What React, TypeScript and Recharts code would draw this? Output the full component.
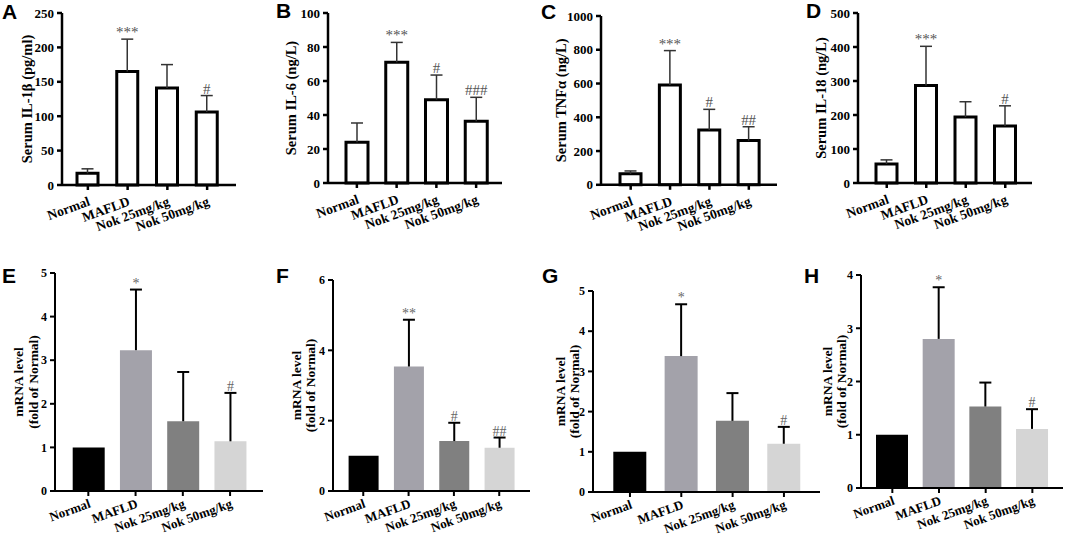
import { BarChart, Bar, XAxis, YAxis, Cell, LabelList } from "recharts";

const groups = ["Normal", "MAFLD", "Nok 25mg/kg", "Nok 50mg/kg"];
const mrnaFills = ["#000000", "#a3a2aa", "#808080", "#d5d5d5"];

// serum cytokines: bar mean, top of the error bar, significance mark
const il1bMean = [17, 165, 141, 106];
const il1bTop = [23.5, 212, 175, 130];
const il1bSig = ["", "***", "", "#"];
const il1bTicks = [0, 50, 100, 150, 200, 250];

const il6Mean = [24, 71, 49, 36.3];
const il6Top = [35.3, 82.7, 63.5, 50.4];
const il6Sig = ["", "***", "#", "###"];
const il6Ticks = [0, 20, 40, 60, 80, 100];

const tnfMean = [65, 591, 325, 262];
const tnfTop = [82, 795, 447, 344];
const tnfSig = ["", "***", "#", "##"];
const tnfTicks = [0, 200, 400, 600, 800, 1000];

const il18Mean = [56, 287, 194, 168];
const il18Top = [68, 402, 239, 227];
const il18Sig = ["", "***", "", "#"];
const il18Ticks = [0, 100, 200, 300, 400, 500];

// mRNA, fold of Normal
const eMean = [1, 3.23, 1.6, 1.14];
const eTop = [1, 4.62, 2.73, 2.25];
const eSig = ["", "*", "", "#"];
const eTicks = [0, 1, 2, 3, 4, 5];

const fMean = [1, 3.54, 1.42, 1.23];
const fTop = [1, 4.87, 1.94, 1.52];
const fSig = ["", "**", "#", "##"];
const fTicks = [0, 2, 4, 6];

const gMean = [1, 3.38, 1.77, 1.2];
const gTop = [1, 4.67, 2.46, 1.62];
const gSig = ["", "*", "", "#"];
const gTicks = [0, 1, 2, 3, 4, 5];

const hMean = [1, 2.8, 1.53, 1.11];
const hTop = [1, 3.77, 1.98, 1.48];
const hSig = ["", "*", "", "#"];
const hTicks = [0, 1, 2, 3, 4];

const serif = "'Liberation Serif', 'Times New Roman', serif";

type Spec = {
  letter: string;
  mean: number[];
  top: number[];
  sig: string[];
  ticks: number[];
  title: string[];
  gaps: number[];
  mrna: boolean;
  axisX: number;
  plotTop: number;
  plotBottom: number;
  right: number;
  padL: number;
  padR: number;
  barSize: number;
};

const panels: Spec[] = [
  { letter: "A", mean: il1bMean, top: il1bTop, sig: il1bSig, ticks: il1bTicks, title: ["Serum IL-1β (pg/ml)"], gaps: [35], mrna: false, axisX: 62, plotTop: 13, plotBottom: 185, right: 236, padL: 6, padR: 9, barSize: 21 },
  { letter: "B", mean: il6Mean, top: il6Top, sig: il6Sig, ticks: il6Ticks, title: ["Serum IL-6 (ng/L)"], gaps: [37], mrna: false, axisX: 328, plotTop: 13.3, plotBottom: 183.3, right: 502, padL: 9, padR: 6, barSize: 22 },
  { letter: "C", mean: tnfMean, top: tnfTop, sig: tnfSig, ticks: tnfTicks, title: ["Serum TNFα (ng/L)"], gaps: [40], mrna: false, axisX: 601, plotTop: 15.7, plotBottom: 184.5, right: 777, padL: 10, padR: 8.5, barSize: 21 },
  { letter: "D", mean: il18Mean, top: il18Top, sig: il18Sig, ticks: il18Ticks, title: ["Serum IL-18 (ng/L)"], gaps: [37], mrna: false, axisX: 858, plotTop: 13.3, plotBottom: 183.3, right: 1032, padL: 9, padR: 7, barSize: 21 },
  { letter: "E", mean: eMean, top: eTop, sig: eSig, ticks: eTicks, title: ["mRNA level", "(fold of Normal)"], gaps: [37, 22], mrna: true, axisX: 55, plotTop: 273, plotBottom: 491, right: 263, padL: 9.7, padR: 9.3, barSize: 32 },
  { letter: "F", mean: fMean, top: fTop, sig: fSig, ticks: fTicks, title: ["mRNA level", "(fold of Normal)"], gaps: [37, 23], mrna: true, axisX: 333, plotTop: 280, plotBottom: 491, right: 530, padL: 7.6, padR: 8.1, barSize: 30 },
  { letter: "G", mean: gMean, top: gTop, sig: gSig, ticks: gTicks, title: ["mRNA level", "(fold of Normal)"], gaps: [33, 19], mrna: true, axisX: 593, plotTop: 291, plotBottom: 492, right: 820, padL: 11.3, padR: 10.4, barSize: 33 },
  { letter: "H", mean: hMean, top: hTop, sig: hSig, ticks: hTicks, title: ["mRNA level", "(fold of Normal)"], gaps: [34, 20], mrna: true, axisX: 861, plotTop: 275, plotBottom: 488, right: 1063, padL: 8, padR: 7.3, barSize: 32 },
];

const letterPos = [
  [2, 19], [276, 18], [541, 19], [806, 18],
  [2, 283], [276, 283], [542, 283], [804, 283],
];

function buildRows(mean: number[], top: number[], sig: string[]) {
  return groups.map((g, i) => ({ group: g, mean: mean[i], spread: top[i] - mean[i], sig: sig[i] }));
}

const GroupTick = (props: any) => {
  const { x, y, payload, dy, size } = props;
  const tx = x + 3;
  const ty = y + dy;
  return (
    <text x={tx} y={ty} transform={`rotate(-20 ${tx} ${ty})`} textAnchor="end" fill="#000" fontFamily={serif} fontWeight={700} fontSize={size}>
      {payload.value}
    </text>
  );
};

const AxisTitle = (props: any) => {
  const { viewBox, lines, gaps, size } = props;
  if (!viewBox) return null;
  const ax = viewBox.x + viewBox.width;
  const cy = viewBox.y + viewBox.height / 2;
  return (
    <g>
      {lines.map((t: string, i: number) => {
        const cx = ax - gaps[i];
        return (
          <text key={t} x={cx} y={cy} transform={`rotate(-90 ${cx} ${cy})`} textAnchor="middle" dominantBaseline="central" fill="#000" fontFamily={serif} fontWeight={700} fontSize={size}>
            {t}
          </text>
        );
      })}
    </g>
  );
};

const Whisker = (props: any) => {
  const { x, y, width, height, color, sw } = props;
  if (!height || height < 0.5) return <g />;
  const cx = x + width / 2;
  return (
    <g stroke={color} strokeWidth={sw}>
      <line x1={cx} y1={y + height} x2={cx} y2={y} />
      <line x1={cx - 6} y1={y} x2={cx + 6} y2={y} />
    </g>
  );
};

const SigMark = (props: any) => {
  const vb = props.viewBox ?? props;
  const { value, size, color } = props;
  if (!value || vb.x == null) return null;
  return (
    <text x={vb.x + vb.width / 2} y={vb.y - 2} textAnchor="middle" fill={color} fontFamily={serif} fontSize={size}>
      {value}
    </text>
  );
};

function Panel({ p }: { p: Spec }) {
  const rows = buildRows(p.mean, p.top, p.sig);
  const padTop = 14;
  const yw = 60;
  const xh = 70;
  const mr = 4;
  const width = p.right - p.axisX + yw + mr;
  const height = p.plotBottom - p.plotTop + padTop + xh;
  const axisW = p.mrna ? 2 : 2.5;
  const axisStyle = { stroke: "#000", strokeWidth: axisW };
  return (
    <div style={{ position: "absolute", left: p.axisX - yw, top: p.plotTop - padTop }}>
      <BarChart width={width} height={height} data={rows} margin={{ top: padTop, right: mr, bottom: 0, left: 0 }}>
        <XAxis
          dataKey="group"
          interval={0}
          height={xh}
          padding={{ left: p.padL, right: p.padR }}
          tickSize={5}
          axisLine={axisStyle}
          tickLine={axisStyle}
          tick={(t: any) => <GroupTick {...t} dy={p.mrna ? 9 : 13} size={p.mrna ? 13 : 13.5} />}
        />
        <YAxis
          type="number"
          domain={[0, p.ticks[p.ticks.length - 1]]}
          ticks={p.ticks}
          interval={0}
          width={yw}
          tickSize={5}
          tickMargin={3}
          axisLine={axisStyle}
          tickLine={axisStyle}
          tick={{ fill: "#000", fontSize: p.mrna ? 12 : 13, fontWeight: 700, fontFamily: serif }}
          label={(lp: any) => <AxisTitle viewBox={lp.viewBox} lines={p.title} gaps={p.gaps} size={p.mrna ? 13.5 : 14.5} />}
        />
        <Bar
          dataKey="mean"
          stackId="s"
          barSize={p.barSize}
          isAnimationActive={false}
          fill="#fff"
          stroke={p.mrna ? "none" : "#000"}
          strokeWidth={p.mrna ? 0 : 3}
        >
          {rows.map((r, i) => (
            <Cell key={r.group} fill={p.mrna ? mrnaFills[i] : "#fff"} />
          ))}
        </Bar>
        <Bar
          dataKey="spread"
          stackId="s"
          barSize={p.barSize}
          isAnimationActive={false}
          fill="none"
          shape={(sp: any) => <Whisker {...sp} color={p.mrna ? "#000" : "#333"} sw={p.mrna ? 2 : 1.5} />}
        >
          <LabelList
            dataKey="sig"
            content={(lp: any) => <SigMark {...lp} size={p.mrna ? 14 : 15} color={p.mrna ? "#666" : "#555"} />}
          />
        </Bar>
      </BarChart>
    </div>
  );
}

export default function App() {
  return (
    <div style={{ position: "absolute", left: 0, top: 0, width: 1065, height: 535, background: "#fff", overflow: "hidden" }}>
      {panels.map((p) => (
        <Panel key={p.letter} p={p} />
      ))}
      <svg width={1065} height={535} style={{ position: "absolute", left: 0, top: 0, pointerEvents: "none" }}>
        {panels.map((p, i) => (
          <text key={p.letter} x={letterPos[i][0]} y={letterPos[i][1]} fontFamily="'Liberation Sans', Arial, sans-serif" fontWeight={700} fontSize={21} fill="#000">
            {p.letter}
          </text>
        ))}
      </svg>
    </div>
  );
}
